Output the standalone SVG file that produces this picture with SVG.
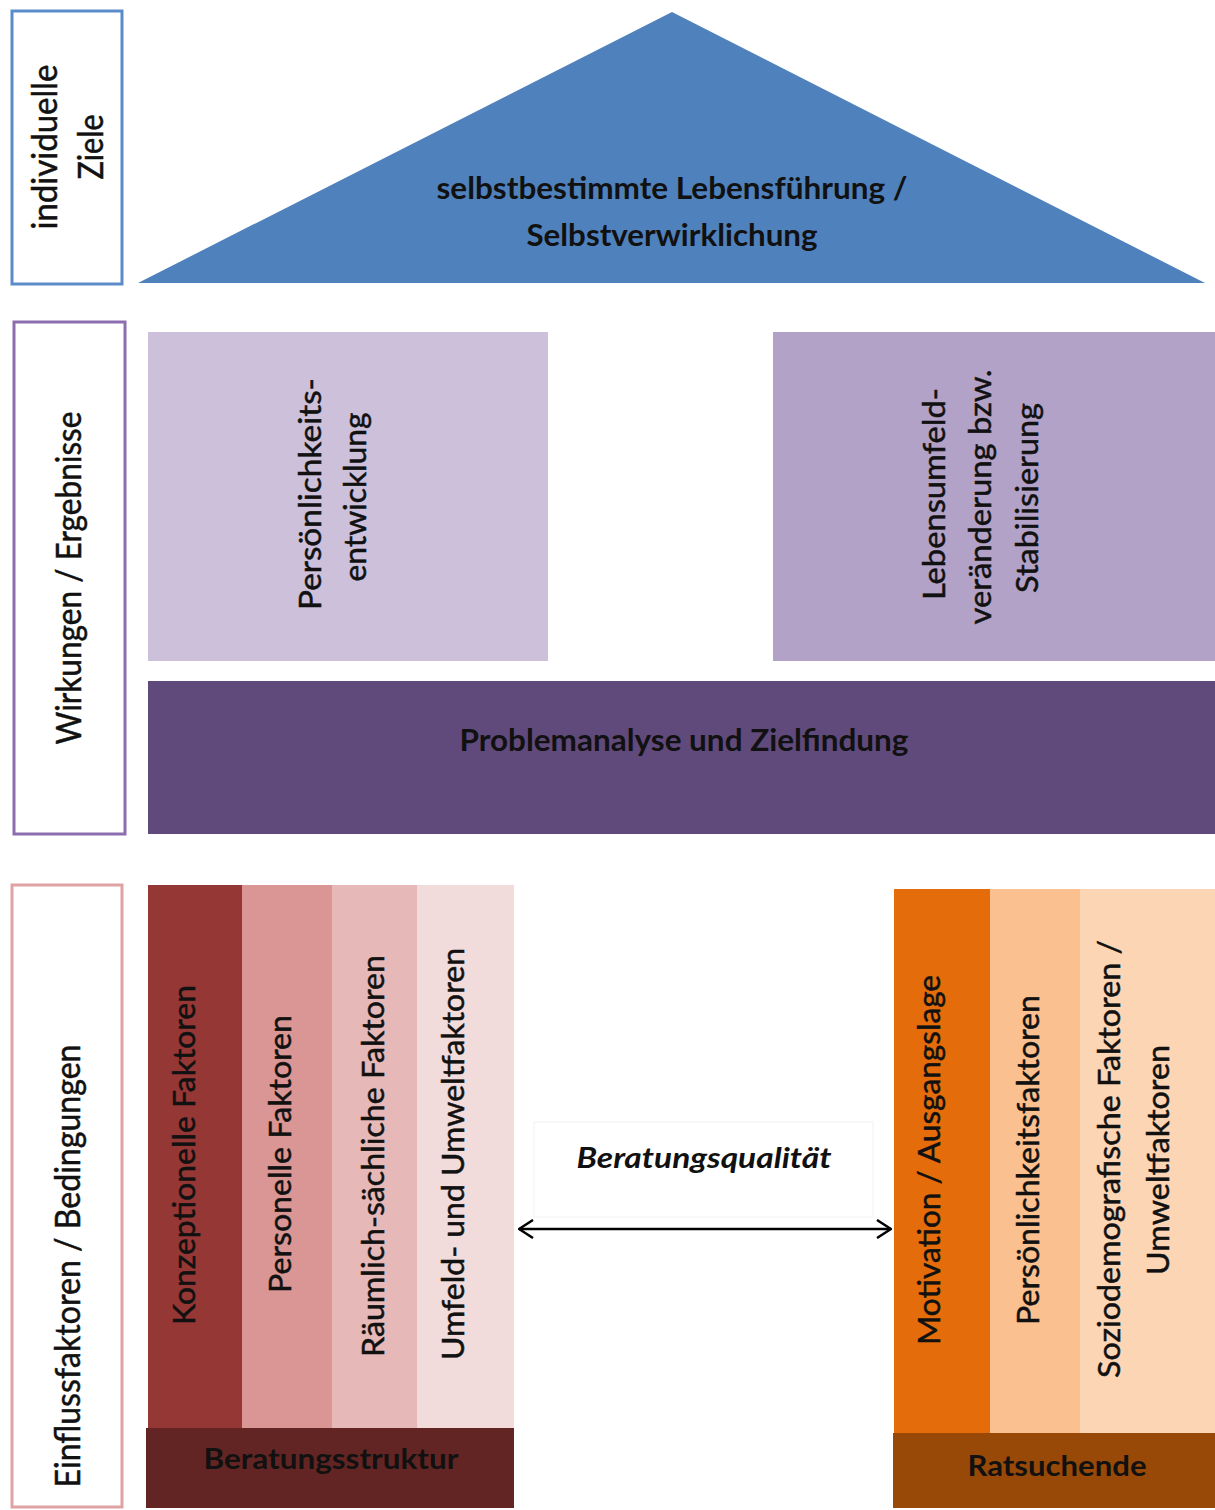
<svg xmlns="http://www.w3.org/2000/svg" width="1215" height="1510" viewBox="0 0 1215 1510">
<style>
text{font-family:Lato,"Open Sans","Liberation Sans",sans-serif;fill:#111;}
.lbl{font-size:34px;stroke:#111;stroke-width:0.5;}
.rt{font-size:31px;stroke:#111;stroke-width:0.5;}
.ttl{font-size:31px;font-weight:bold;}
.bar{font-size:28px;font-weight:bold;}
.lblbox{fill:#fff;stroke-width:3;}
</style>
<defs>
<marker id="arr" viewBox="0 0 16 20" refX="15" refY="10" markerWidth="16" markerHeight="20" markerUnits="userSpaceOnUse" orient="auto-start-reverse">
<path d="M1,1 L15,10 L1,19" fill="none" stroke="#000" stroke-width="2.5"/>
</marker>
</defs>
<rect width="1215" height="1510" fill="#fff"/>

<g id="label-ziele">
<rect class="lblbox" x="12" y="11" width="110" height="273" stroke="#5b8bc8"/>
<text class="lbl" transform="translate(57,147) rotate(-90)" text-anchor="middle" textLength="165" lengthAdjust="spacingAndGlyphs">individuelle</text>
<text class="lbl" transform="translate(103,147) rotate(-90)" text-anchor="middle" textLength="65" lengthAdjust="spacingAndGlyphs">Ziele</text>
</g>

<g id="roof">
<polygon points="672,12 1205,283 138,283" fill="#4f81bd"/>
<text class="ttl" x="672" y="199" text-anchor="middle" textLength="471" lengthAdjust="spacingAndGlyphs">selbstbestimmte Lebensführung /</text>
<text class="ttl" x="672" y="246" text-anchor="middle" textLength="291" lengthAdjust="spacingAndGlyphs">Selbstverwirklichung</text>
</g>

<g id="label-wirkungen">
<rect class="lblbox" x="14" y="322" width="111" height="512" stroke="#8c6db0"/>
<text class="lbl" transform="translate(81,578) rotate(-90)" text-anchor="middle" textLength="333" lengthAdjust="spacingAndGlyphs">Wirkungen / Ergebnisse</text>
</g>

<g id="persoenlichkeitsentwicklung">
<rect x="148" y="332" width="400" height="329" fill="#ccc0da"/>
<text class="rt" transform="translate(321,494) rotate(-90)" text-anchor="middle" textLength="232" lengthAdjust="spacingAndGlyphs">Persönlichkeits-</text>
<text class="rt" transform="translate(366,497) rotate(-90)" text-anchor="middle" textLength="169" lengthAdjust="spacingAndGlyphs">entwicklung</text>
</g>

<g id="lebensumfeld">
<rect x="773" y="332" width="442" height="329" fill="#b3a2c7"/>
<text class="rt" transform="translate(945,494) rotate(-90)" text-anchor="middle" textLength="212" lengthAdjust="spacingAndGlyphs">Lebensumfeld-</text>
<text class="rt" transform="translate(991,497) rotate(-90)" text-anchor="middle" textLength="255" lengthAdjust="spacingAndGlyphs">veränderung bzw.</text>
<text class="rt" transform="translate(1038,498) rotate(-90)" text-anchor="middle" textLength="190" lengthAdjust="spacingAndGlyphs">Stabilisierung</text>
</g>

<g id="problemanalyse">
<rect x="148" y="681" width="1067" height="153" fill="#604a7b"/>
<text class="ttl" x="684" y="751" text-anchor="middle" textLength="449" lengthAdjust="spacingAndGlyphs">Problemanalyse und Zielfindung</text>
</g>

<g id="label-einfluss">
<rect class="lblbox" x="12" y="885" width="110" height="622" stroke="#e0a3a3"/>
<text class="lbl" transform="translate(80,1266) rotate(-90)" text-anchor="middle" textLength="443" lengthAdjust="spacingAndGlyphs">Einflussfaktoren / Bedingungen</text>
</g>

<g id="beratungsstruktur">
<rect x="148" y="885" width="94" height="544" fill="#953735"/>
<rect x="242" y="885" width="90" height="544" fill="#d99694"/>
<rect x="332" y="885" width="85" height="544" fill="#e6b9b8"/>
<rect x="417" y="885" width="97" height="544" fill="#f2dcdb"/>
<text class="rt" transform="translate(195,1155) rotate(-90)" text-anchor="middle" textLength="340" lengthAdjust="spacingAndGlyphs">Konzeptionelle Faktoren</text>
<text class="rt" transform="translate(291,1154) rotate(-90)" text-anchor="middle" textLength="278" lengthAdjust="spacingAndGlyphs">Personelle Faktoren</text>
<text class="rt" transform="translate(384,1156) rotate(-90)" text-anchor="middle" textLength="402" lengthAdjust="spacingAndGlyphs">Räumlich-sächliche Faktoren</text>
<text class="rt" transform="translate(464,1154) rotate(-90)" text-anchor="middle" textLength="412" lengthAdjust="spacingAndGlyphs">Umfeld- und Umweltfaktoren</text>
<rect x="146" y="1428" width="368" height="80" fill="#632523"/>
<text class="bar" x="331" y="1469" text-anchor="middle" textLength="255" lengthAdjust="spacingAndGlyphs">Beratungsstruktur</text>
</g>

<g id="ratsuchende">
<rect x="894" y="889" width="96" height="545" fill="#e46c0a"/>
<rect x="990" y="889" width="90" height="545" fill="#fac090"/>
<rect x="1080" y="889" width="135" height="545" fill="#fcd5b5"/>
<text class="rt" transform="translate(940,1160) rotate(-90)" text-anchor="middle" textLength="370" lengthAdjust="spacingAndGlyphs">Motivation / Ausgangslage</text>
<text class="rt" transform="translate(1039,1160) rotate(-90)" text-anchor="middle" textLength="330" lengthAdjust="spacingAndGlyphs">Persönlichkeitsfaktoren</text>
<text class="rt" transform="translate(1120,1159) rotate(-90)" text-anchor="middle" textLength="438" lengthAdjust="spacingAndGlyphs">Soziodemografische Faktoren /</text>
<text class="rt" transform="translate(1169,1160) rotate(-90)" text-anchor="middle" textLength="230" lengthAdjust="spacingAndGlyphs">Umweltfaktoren</text>
<rect x="893" y="1433" width="322" height="75" fill="#984807"/>
<text class="bar" x="1057" y="1476" text-anchor="middle" textLength="179" lengthAdjust="spacingAndGlyphs">Ratsuchende</text>
</g>

<g id="connectors">
<line x1="519" y1="1229" x2="891" y2="1229" stroke="#000" stroke-width="2.5" marker-start="url(#arr)" marker-end="url(#arr)"/>
</g>

<g id="beratungsqualitaet">
<rect x="534" y="1122" width="339" height="95" fill="#fff" stroke="#f2f2f2" stroke-width="1"/>
<text x="704" y="1168" text-anchor="middle" font-size="29" font-style="italic" font-weight="bold" textLength="255" lengthAdjust="spacingAndGlyphs">Beratungsqualität</text>
</g>
</svg>
